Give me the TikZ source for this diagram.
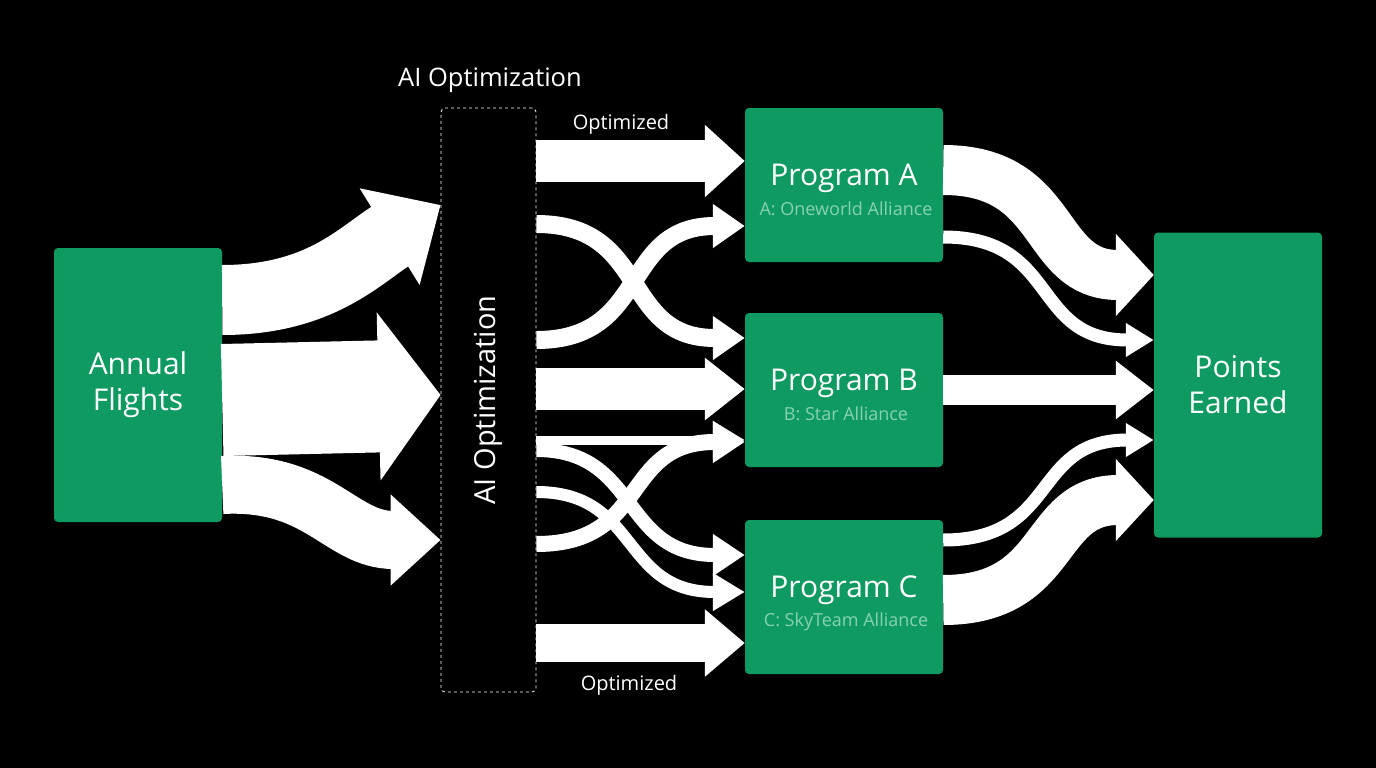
\documentclass[tikz,border=0pt]{standalone}
\usepackage{fontspec}
\setmainfont{Open Sans}
\usetikzlibrary{arrows.meta}
\definecolor{grn}{HTML}{0E9A60}
\definecolor{sub}{HTML}{86D3AE}
\begin{document}
\begin{tikzpicture}[x=1pt,y=-1pt,
  box/.style={fill=grn,rounded corners=4pt,inner sep=0pt,text=white,align=center,font=\fontsize{30}{36}\selectfont},
  flow/.style={white,line width=#1},
  lbl/.style={text=white,font=\fontsize{20}{22}\selectfont}]
\fill[black] (0,0) rectangle (1376,768);
\useasboundingbox (0,0) rectangle (1376,768);
% nodes
\node[box,minimum width=168,minimum height=274] (af) at (138,385) {Annual\\Flights};
\node[draw=white,dashed,line width=0.8,rounded corners=4pt,minimum width=95,minimum height=584,inner sep=0] (ai) at (488.5,400) {};
\node[text=white,rotate=90,font=\fontsize{29}{32}\selectfont] (ait) at (ai.center) {AI Optimization};
\node[text=white,font=\fontsize{25.5}{28}\selectfont] (ttl) at (490,80) {AI Optimization};
\node[box,minimum width=198,minimum height=154] (pa) at (844,185) {};
\node[box,minimum width=198,minimum height=154] (pb) at (844,390) {};
\node[box,minimum width=198,minimum height=154] (pc) at (844,597) {};
\node[text=white,font=\fontsize{30}{33}\selectfont] at (844,178) {Program A};
\node[text=sub,font=\fontsize{18}{20}\selectfont] at (846,209) {A: Oneworld Alliance};
\node[text=white,font=\fontsize{30}{33}\selectfont] at (844,383) {Program B};
\node[text=sub,font=\fontsize{18}{20}\selectfont] at (846,414) {B: Star Alliance};
\node[text=white,font=\fontsize{30}{33}\selectfont] at (844,590) {Program C};
\node[text=sub,font=\fontsize{18}{20}\selectfont] at (846,622) {C: SkyTeam Alliance};
\node[box,minimum width=168,minimum height=305] (pe) at (1238,385) {Points\\Earned};
\node[lbl] (o1) at (621,124) {Optimized};
\node[lbl] (o2) at (629,685) {Optimized};
% left flows
\draw[flow=70,-{Triangle[width=110,length=60]}] (af.east |- 0,300) .. controls (320,300) and (360,255) .. (ai.west |- 0,205);
\draw[flow=112,-{Triangle[width=165,length=62]}] (af.east |- 0,400) -- (ai.west |- 0,395);
\draw[flow=58,-{Triangle[width=88,length=50]}] (af.east |- 0,485) .. controls (320,480) and (340,540) .. (ai.west |- 0,540);
% middle flows
\draw[flow=42,-{Triangle[width=70,length=40]}] (ai.east |- 0,161) -- (pa.west |- 0,161);
\draw[flow=18,-{Triangle[width=42,length=32]}] (ai.east |- 0,224) .. controls (650,224) and (620,338) .. (pb.west |- 0,338);
\draw[flow=18,-{Triangle[width=42,length=32]}] (ai.east |- 0,340) .. controls (650,340) and (620,226) .. (pa.west |- 0,226);
\draw[flow=42,-{Triangle[width=60,length=40]}] (ai.east |- 0,389) -- (pb.west |- 0,389);
\draw[flow=9,-{Triangle[width=36,length=32]}] (ai.east |- 0,440) -- (pb.west |- 0,440);
\draw[flow=14,-{Triangle[width=40,length=32]}] (ai.east |- 0,450) .. controls (640,450) and (620,555) .. (pc.west |- 0,555);
\draw[flow=12,-{Triangle[width=36,length=32]}] (ai.east |- 0,492) .. controls (640,492) and (620,592) .. (pc.west |- 0,592);
\draw[flow=16,-{Triangle[width=40,length=32]}] (ai.east |- 0,544) .. controls (650,544) and (620,442) .. (pb.west |- 0,442);
\draw[flow=38,-{Triangle[width=65,length=40]}] (ai.east |- 0,643) -- (pc.west |- 0,643);
% right flows
\draw[flow=50,-{Triangle[width=80,length=38]}] (pa.east |- 0,170) .. controls (1060,170) and (1040,275) .. (pe.west |- 0,275);
\draw[flow=13,-{Triangle[width=32,length=28]}] (pa.east |- 0,237) .. controls (1060,237) and (1030,340) .. (pe.west |- 0,340);
\draw[flow=30,-{Triangle[width=56,length=38]}] (pb.east |- 0,390) -- (pe.west |- 0,390);
\draw[flow=13,-{Triangle[width=32,length=28]}] (pc.east |- 0,540) .. controls (1060,540) and (1030,440) .. (pe.west |- 0,440);
\draw[flow=50,-{Triangle[width=80,length=38]}] (pc.east |- 0,600) .. controls (1060,600) and (1040,500) .. (pe.west |- 0,500);
\end{tikzpicture}
\end{document}
